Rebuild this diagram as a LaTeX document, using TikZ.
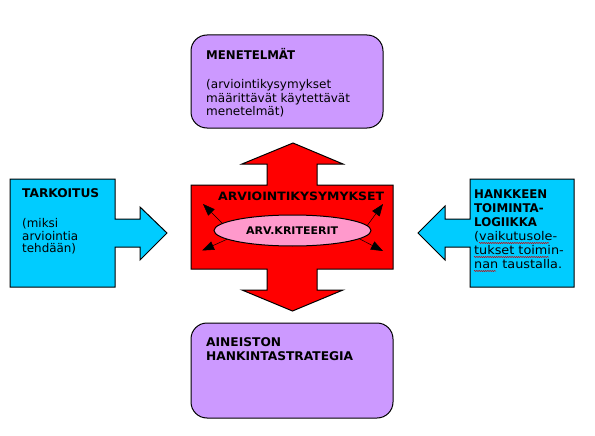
\documentclass[tikz,border=0pt]{standalone}
\usepackage{fontspec}
\setmainfont{DejaVu Sans}
\usetikzlibrary{arrows.meta,shapes.geometric,decorations.pathmorphing}
\definecolor{lilac}{RGB}{204,153,255}
\definecolor{skyb}{RGB}{0,204,255}
\definecolor{pinkell}{RGB}{255,153,204}
\definecolor{redf}{RGB}{255,0,0}
\newcommand{\stt}{\rule{0pt}{10pt}}
\newcommand{\rfont}[1]{\fontsize{12}{#1}\selectfont}
\newcommand{\bfont}[1]{\fontsize{12}{#1}\selectfont\bfseries}
\newsavebox\measbox
\newcommand{\setfac}[3]{\sbox\measbox{#3}\pgfmathsetmacro#1{#2/\the\wd\measbox}}
\newcommand{\hs}[2]{\scalebox{#1}[1]{#2}}
\tikzset{
  outl/.style={draw=black,line width=1pt},
  purplebox/.style={outl,fill=lilac,rounded corners=16pt,minimum width=#1,inner sep=0pt},
  bluefig/.style={outl,fill=skyb},
  redfig/.style={outl,fill=redf},
  txt/.style={anchor=north west,inner sep=0pt,align=left},
  smallarrow/.style={draw=black,line width=0.5pt,-{Triangle[length=12pt,width=9pt]}},
  squig/.style={draw=red!80!black,line width=0.5pt,decorate,decoration={snake,amplitude=0.6pt,segment length=2.2pt}}
}
\begin{document}
% width factors so that the texts get the reference's widths
\setfac{\fA}{89}{\bfont{14}MENETELMÄT}%
\setfac{\fB}{125}{\rfont{14}(arviointikysymykset}%
\setfac{\fC}{77}{\bfont{14}TARKOITUS}%
\setfac{\fD}{56}{\rfont{14}arviointia}%
\setfac{\fE}{73}{\bfont{14}HANKKEEN}%
\setfac{\fF}{83}{\rfont{14}(vaikutusole-}%
\setfac{\fG}{147}{\bfont{14}HANKINTASTRATEGIA}%
\setfac{\fH}{166}{\fontsize{11.5}{14}\selectfont\bfseries ARVIOINTIKYSYMYKSET}%
\setfac{\fK}{92}{\fontsize{10.5}{12}\selectfont\bfseries ARV.KRITEERIT}%
\begin{tikzpicture}[x=1pt,y=-1pt]
\useasboundingbox (0,0) rectangle (595,436);
\fill[white] (0,0) rectangle (595,436);
% top and bottom boxes
\node[purplebox=192pt,minimum height=93pt] (topbox) at (287,81.5) {};
\node[purplebox=202pt,minimum height=95pt] (botbox) at (292,370.5) {};
% central red double arrow
\path[redfig] (293,143) -- (343,164) -- (317,164) -- (317,185) -- (393,185) -- (393,269)
  -- (317,269) -- (317,290) -- (343,290) -- (292.5,311) -- (242,290) -- (267,290)
  -- (267,269) -- (191,269) -- (191,185) -- (267,185) -- (267,164) -- (242,164) -- cycle;
% left blue box arrow
\path[bluefig] (10,179) -- (115,179) -- (115,219) -- (140,219) -- (140,207) -- (167,233)
  -- (140,260) -- (140,247) -- (115,247) -- (115,287) -- (10,287) -- cycle;
% right blue box arrow
\path[bluefig] (574,179) -- (470,179) -- (470,219) -- (445,219) -- (445,206) -- (418,233)
  -- (445,260) -- (445,247) -- (470,247) -- (470,287) -- (574,287) -- cycle;
% small arrows (start hidden under the ellipse)
\coordinate (stl) at (228,229);
\coordinate (sbl) at (231,237.5);
\coordinate (str) at (364,230);
\coordinate (sbr) at (355,236.5);
\coordinate (tl) at (203,204);
\coordinate (bl) at (202,250.5);
\coordinate (tr) at (383,204);
\coordinate (br) at (383,251);
\draw[smallarrow] (stl) -- (tl);
\draw[smallarrow] (sbl) -- (bl);
\draw[smallarrow] (str) -- (tr);
\draw[smallarrow] (sbr) -- (br);
% ellipse
\node[ellipse,outl,fill=pinkell,minimum width=157pt,minimum height=31pt,inner sep=0pt] (ell) at (292.5,230.5) {};
\node[anchor=base west,inner sep=0pt,font=\fontsize{10.5}{12}\selectfont\bfseries] (krit) at (246,234) {\hs{\fK}{ARV.KRITEERIT}};
\node[anchor=base west,inner sep=0pt,font=\fontsize{11.5}{14}\selectfont\bfseries] (kys) at (218,200) {\hs{\fH}{ARVIOINTIKYSYMYKSET}};
% texts
\node[txt,font=\bfont{14}] (menh) at (206,48) {\stt\hs{\fA}{MENETELMÄT}};
\node[txt,font=\rfont{13.5}] (menb) at (206,78.5) {\stt\hs{\fB}{(arviointikysymykset}\\\hs{\fB}{määrittävät käytettävät}\\\hs{\fB}{menetelmät)}};
\node[txt,font=\bfont{14}] (tarh) at (22,187.7) {\stt\hs{\fC}{TARKOITUS}};
\node[txt,font=\rfont{12.2}] (tarb) at (22,217.7) {\stt\hs{\fD}{(miksi}\\\hs{\fD}{arviointia}\\\hs{\fD}{tehdään)}};
\node[txt,font=\bfont{14}] (hank) at (474,188.3) {\stt\hs{\fE}{HANKKEEN}\\\hs{\fE}{TOIMINTA-}\\\hs{\fE}{LOGIIKKA}};
\node[txt,font=\rfont{14}] (hanb) at (474,230) {\stt\hs{\fF}{(vaikutusole-}\\\hs{\fF}{tukset toimin-}\\\hs{\fF}{nan taustalla.}};
\node[txt,font=\bfont{14.7}] (aine) at (206,336) {\stt\hs{\fG}{AINEISTON}\\\hs{\fG}{HANKINTASTRATEGIA}};
% spell-check squiggles
\draw[squig] (479,243) -- (549,243);
\draw[squig] (474,257) -- (549,257);
\draw[squig] (474,271) -- (496,271);
\end{tikzpicture}
\end{document}
